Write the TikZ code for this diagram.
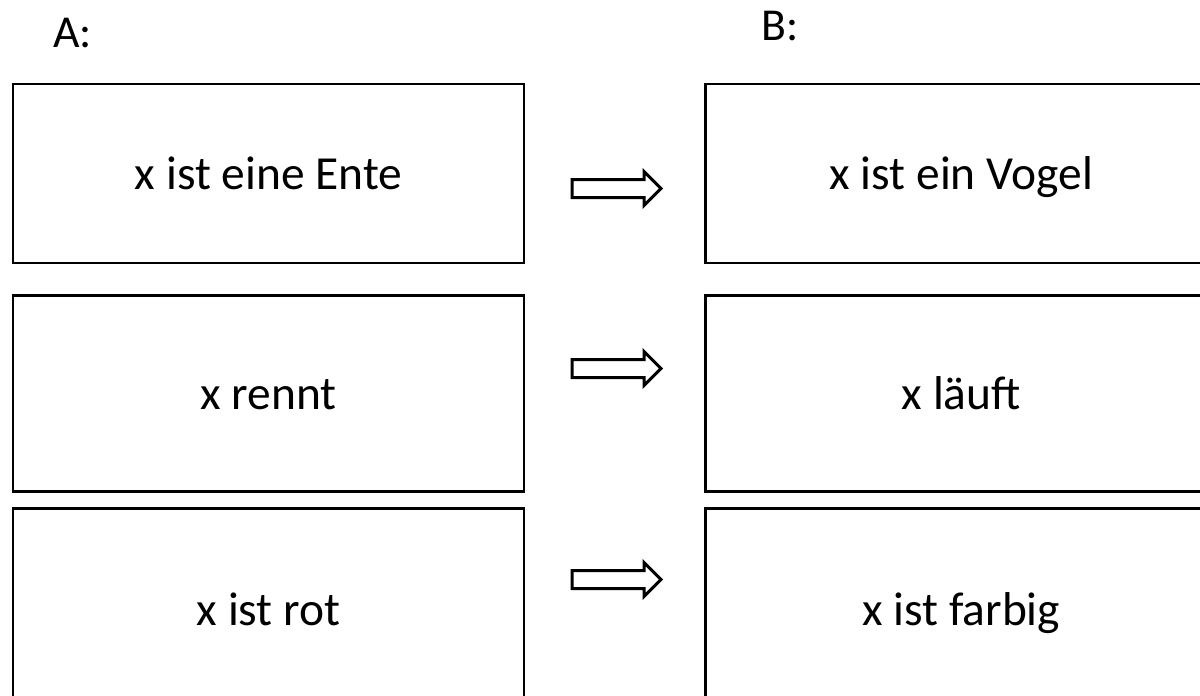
\documentclass[tikz,border=0pt]{standalone}
\usepackage{fontspec}
\setmainfont{Carlito}
\usetikzlibrary{positioning,shapes.arrows}

\tikzset{
  box/.style={draw,line width=1.6pt,minimum width=10.22cm,inner sep=0pt,
    text height=0.62cm,text depth=0pt,font=\fontsize{27}{32}\selectfont},
  heading/.style={inner sep=0pt,anchor=base west,font=\fontsize{26}{30}\selectfont},
  implies/.style={single arrow,draw,line width=1.7pt,minimum height=1.78cm,
    inner xsep=0pt,inner ysep=0.15cm,single arrow head extend=0.16cm,
    single arrow tip angle=90}
}

\begin{document}
\begin{tikzpicture}
\useasboundingbox (0,0) rectangle (24,-13.9);

% column A
\node[heading] (ha) at (1.06,-0.94) {A:};
\node[box,minimum height=3.58cm] (a1) at (5.37,-3.47) {x ist eine Ente};
\node[box,minimum height=3.92cm,below=0.6cm of a1] (a2) {x rennt};
\node[box,minimum height=4.04cm,below=0.28cm of a2] (a3) {x ist rot};

% column B
\node[heading] (hb) at (15.22,-0.8) {B:};
\node[box,minimum height=3.58cm,right=3.58cm of a1] (b1) {x ist ein Vogel};
\node[box,minimum height=3.92cm,right=3.58cm of a2] (b2) {x läuft};
\node[box,minimum height=4.04cm,right=3.58cm of a3] (b3) {x ist farbig};

% block arrows A => B
\foreach \y [count=\i] in {-3.77,-7.37,-11.59} {
  \node[implies] (i\i) at (12.24,\y) {};
}
\end{tikzpicture}
\end{document}
